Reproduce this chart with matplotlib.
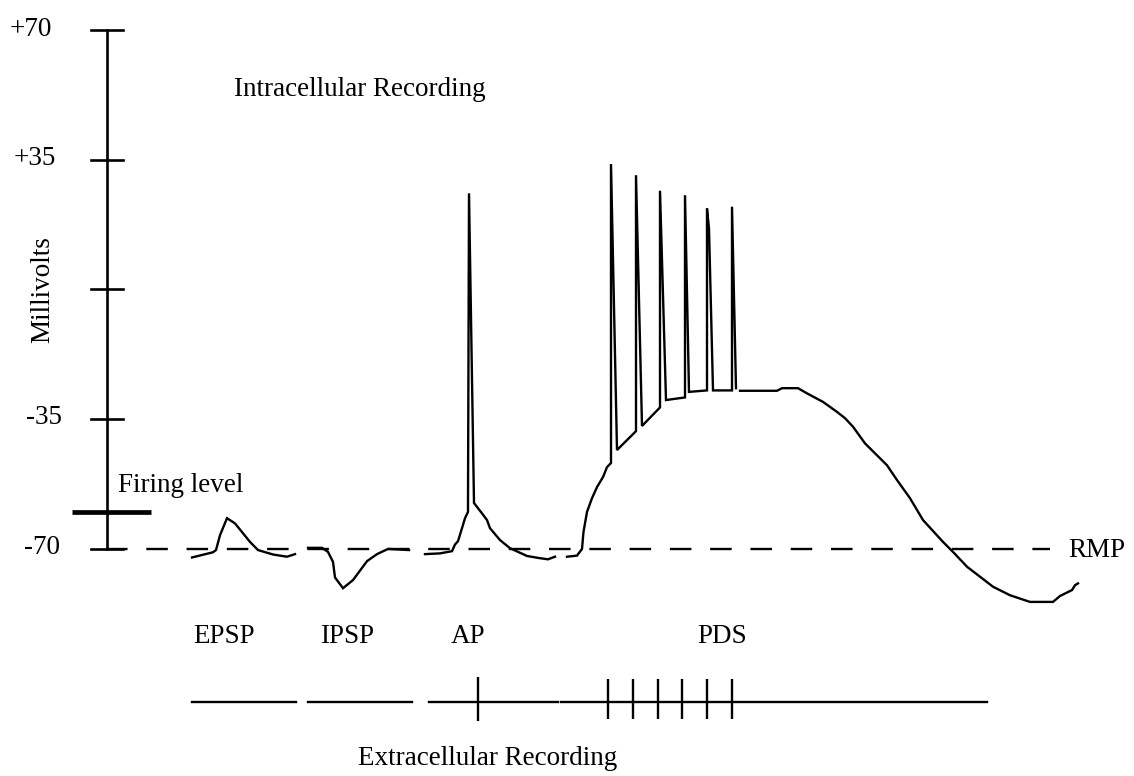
import matplotlib.pyplot as plt

plt.rcParams['font.family'] = ['Liberation Serif', 'DejaVu Serif']
plt.rcParams['lines.scale_dashes'] = False

# scale bar (millivolts)
scale_ticks = [70, 35, 0, -35, -70]
scale_labels = ['+70', '+35', '', '-35', '-70']
firing_level = -60
rmp = -70

# intracellular traces: time (arbitrary units) and membrane potential (mV)
epsp_t = [192, 213, 216, 220, 227, 235, 250, 258, 273, 287, 295]
epsp_mv = [-72.4, -71.0, -70.4, -66.4, -61.8, -63.2, -68.2, -70.4, -71.6, -72.2, -71.5]

ipsp_t = [308, 322, 328, 333, 335, 343, 353, 367, 377, 388, 409]
ipsp_mv = [-69.8, -69.8, -70.9, -73.6, -77.8, -80.7, -78.5, -73.4, -71.5, -70.1, -70.4]

ap_t = [425, 440, 452, 455, 458, 462, 465, 468, 468, 469, 474, 482, 487, 490, 500, 510, 527, 540, 548, 555]
ap_mv = [-71.5, -71.3, -70.7, -68.9, -68.0, -64.5, -61.8, -60.1, -57.8, 25.9, -57.7, -60.5,
         -62.3, -64.5, -67.7, -69.9, -72.0, -72.6, -72.9, -72.2]

pds_t = [567, 577, 582, 583.5, 587, 592, 597, 603, 607, 611, 611, 617, 636, 636, 642, 660, 660,
         666, 685, 685, 689, 707, 707, 709, 713, 732, 732, 736]
pds_mv = [-72.2, -71.9, -70.1, -65.5, -60.1, -56.4, -53.4, -50.7, -48.0, -46.9, 33.8, -43.4,
          -38.3, 30.8, -36.9, -31.9, 26.6, -29.9, -29.2, 25.4, -27.7, -27.3, 21.8, 16.4, -27.3,
          -27.3, 22.3, -26.7]

decay_t = [740, 777, 782, 798, 807, 823, 837, 845, 853, 865, 887, 897, 910, 923, 943, 953, 967,
           993, 1010, 1030, 1053, 1060, 1072, 1075, 1078]
decay_mv = [-27.4, -27.4, -26.7, -26.7, -28.1, -30.4, -33.1, -34.8, -37.1, -41.6, -47.5, -51.5,
            -56.4, -62.3, -68.2, -70.9, -74.9, -80.3, -82.6, -84.4, -84.4, -82.8, -81.2, -79.9, -79.4]

# extracellular recording: baseline segments and unit spikes
extra_level = -111.4
extra_segments = [(192, 296), (308, 412), (429, 558), (561, 987)]
ap_unit = [478]
pds_units = [608, 633, 658, 682, 707, 732]

event_labels = ['EPSP', 'IPSP', 'AP', 'PDS']
event_x = [193, 320, 451, 697]

fig = plt.figure(figsize=(11.34, 7.76), dpi=100)
ax = fig.add_axes([0, 0, 1, 1])
ax.set_xlim(0, 1134)
ax.set_ylim(-131.4, 78.1)
ax.axis('off')

fs = 19.5
lw = 1.7

# scale bar
ax.plot([107, 107], [scale_ticks[-1], scale_ticks[0]], color='black', lw=1.9)
for v, lab, lx in zip(scale_ticks, scale_labels, [10, 14, 0, 26, 24]):
    ax.plot([91, 123], [v, v], color='black', lw=1.9)
    if lab:
        ax.text(lx, v - 1.5, lab, fontsize=fs, ha='left', va='baseline')
ax.plot([72, 151], [firing_level, firing_level], color='black', lw=3.4, solid_capstyle='butt')
ax.text(43, 0, 'Millivolts', fontsize=fs, rotation=90, ha='center', va='center')
ax.text(118, -54.7, 'Firing level', fontsize=fs, ha='left', va='baseline')
ax.text(234, 52.2, 'Intracellular Recording', fontsize=fs, ha='left', va='baseline')

# resting membrane potential
ax.plot([106.4, 1050], [rmp, rmp], color='black', lw=1.7, dashes=(15.5, 13.5))
ax.text(1068, -72.3, 'RMP', fontsize=fs, ha='left', va='baseline')

# traces
for t, mv in [(epsp_t, epsp_mv), (ipsp_t, ipsp_mv), (ap_t, ap_mv), (pds_t, pds_mv), (decay_t, decay_mv)]:
    ax.plot(t, mv, color='black', lw=lw, solid_joinstyle='miter')

for lab, lx in zip(event_labels, event_x):
    ax.text(lx, -95.5, lab, fontsize=fs, ha='left', va='baseline')

# extracellular
for x0, x1 in extra_segments:
    ax.plot([x0, x1], [extra_level, extra_level], color='black', lw=lw)
ax.vlines(ap_unit, extra_level - 5.2, extra_level + 6.7, color='black', lw=lw)
ax.vlines(pds_units, extra_level - 4.6, extra_level + 6.2, color='black', lw=lw)
ax.text(358, -128.5, 'Extracellular Recording', fontsize=fs, ha='left', va='baseline')

fig.savefig('out.png', dpi=100)
